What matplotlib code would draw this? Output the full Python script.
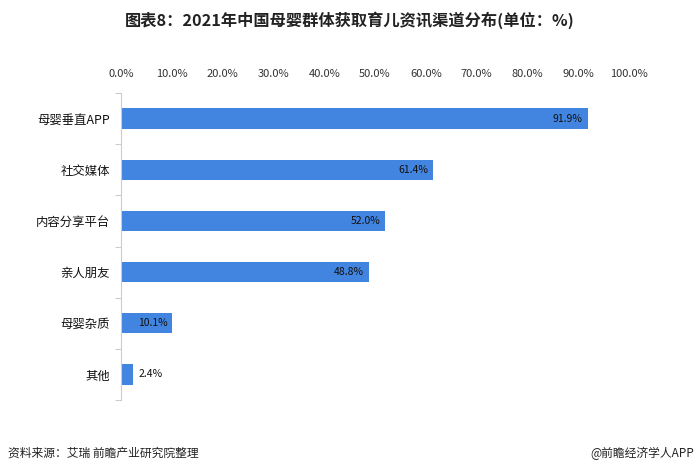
import matplotlib
matplotlib.use("Agg")
import matplotlib.pyplot as plt
import numpy as np

plt.rcParams['font.family'] = ['Noto Sans CJK SC', 'DejaVu Sans']

categories = ["母婴垂直APP", "社交媒体", "内容分享平台", "亲人朋友", "母婴杂质", "其他"]
values = [91.9, 61.4, 52.0, 48.8, 10.1, 2.4]
xticks = [0, 10, 20, 30, 40, 50, 60, 70, 80, 90, 100]
title = "图表8：2021年中国母婴群体获取育儿资讯渠道分布(单位：%)"
source = "资料来源：艾瑞 前瞻产业研究院整理"
credit = "@前瞻经济学人APP"

fig = plt.figure(figsize=(6.99, 4.76), dpi=100)
ax = fig.add_axes([121/699, 1-400/476, (629-121)/699, (400-93)/476])

n = len(categories)
y = np.arange(n)
bar_color = "#4285E0"
ax.barh(y, values, height=0.4, color=bar_color, zorder=2)
ax.set_ylim(n - 0.5, -0.5)
ax.set_xlim(0, 100)

ax.xaxis.tick_top()
ax.set_xticks(xticks)
ax.set_xticklabels([f"{v:.1f}%" for v in xticks], fontsize=8, color="#333333")
ax.tick_params(axis='x', length=0, pad=10)

ax.set_yticks(y)
ax.set_yticklabels(categories, fontsize=8.9, color="#111111")
ax.tick_params(axis='y', length=0, pad=8)
ax.set_yticks(np.arange(n + 1) - 0.5, minor=True)
ax.tick_params(axis='y', which='minor', length=4, color="#cccccc", width=0.8)

for s in ['top', 'right', 'bottom']:
    ax.spines[s].set_visible(False)
ax.spines['left'].set_color("#cccccc")
ax.spines['left'].set_linewidth(0.8)

for yi, v in zip(y, values):
    if v > 5:
        ax.text(v - 1.0, yi, f"{v:.1f}%", ha='right', va='center', fontsize=7.5, color="#111111", zorder=3)
    else:
        ax.text(v + 1.0, yi, f"{v:.1f}%", ha='left', va='center', fontsize=7.5, color="#111111", zorder=3)

fig.text(0.5, 1-20/476, title, ha='center', va='center', fontsize=11.7, fontweight='bold', color="#222222")
fig.text(8/699, 1-453/476, source, ha='left', va='center', fontsize=8.5, color="#222222")
fig.text(1-5/699, 1-453/476, credit, ha='right', va='center', fontsize=8.5, color="#222222")

fig.savefig("out.png", dpi=100)
